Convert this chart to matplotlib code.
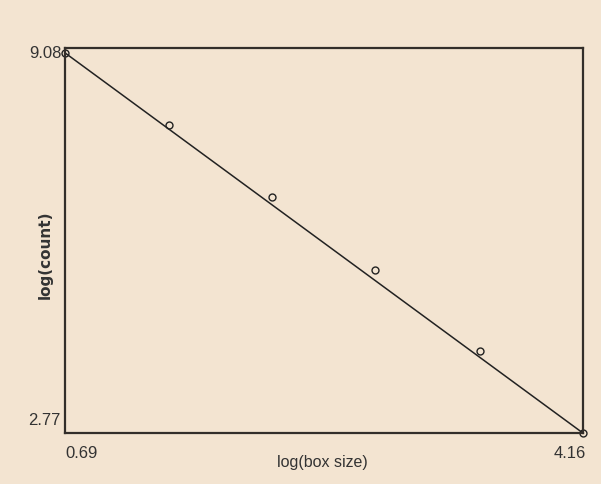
import matplotlib
matplotlib.use("Agg")
import matplotlib.pyplot as plt
import matplotlib.font_manager as fm

# data
log_box = [0.69, 1.39, 2.08, 2.77, 3.47, 4.16]
log_count = [9.08, 7.88, 6.69, 5.47, 4.14, 2.77]
x_labels = ["0.69", "4.16"]
y_labels = ["9.08", "2.77"]

names = {f.name for f in fm.fontManager.ttflist}
narrow = "Liberation Sans Narrow" if "Liberation Sans Narrow" in names else "Liberation Sans"

bg = "#f3e4d1"
fig = plt.figure(figsize=(6.01, 4.85), dpi=100, facecolor=bg)
ax = fig.add_axes([0.108, 0.105, 0.862, 0.794])
ax.set_facecolor(bg)

# fitted line between the end points, then the measured points
ax.plot([log_box[0], log_box[-1]], [log_count[0], log_count[-1]], color="#222222", lw=1.1)
ax.plot(log_box, log_count, "o", ms=5, mfc="none", mec="#222222", mew=1.0)

ax.set_xlim(log_box[0], log_box[-1])
ax.set_ylim(log_count[-1], log_count[0] + 0.08)
ax.set_xticks([])
ax.set_yticks([])
for s in ax.spines.values():
    s.set_color("#332e2a")
    s.set_linewidth(1.6)
for artist in ax.lines:
    artist.set_clip_on(False)

# end labels
ax.text(log_box[0] - 0.02, log_count[0], y_labels[0], ha="right", va="center",
        fontsize=12, family=narrow, color="#333333")
ax.text(log_box[0] - 0.03, log_count[-1] + 0.22, y_labels[1], ha="right", va="center",
        fontsize=12, family=narrow, color="#333333")
ax.text(log_box[0] + 0.0, log_count[-1] - 0.2, x_labels[0], ha="left", va="top",
        fontsize=12, family=narrow, color="#333333")
ax.text(log_box[-1] + 0.02, log_count[-1] - 0.2, x_labels[1], ha="right", va="top",
        fontsize=12, family=narrow, color="#333333")

fig.text(0.537, 0.047, "log(box size)", ha="center", va="center",
         fontsize=11.5, family=narrow, color="#333333")
fig.text(0.075, 0.475, "log(count)", ha="center", va="center", rotation=90,
         fontsize=11, family="DejaVu Sans", fontweight="bold", color="#333333")

fig.savefig("out.png", dpi=100, facecolor=bg)
